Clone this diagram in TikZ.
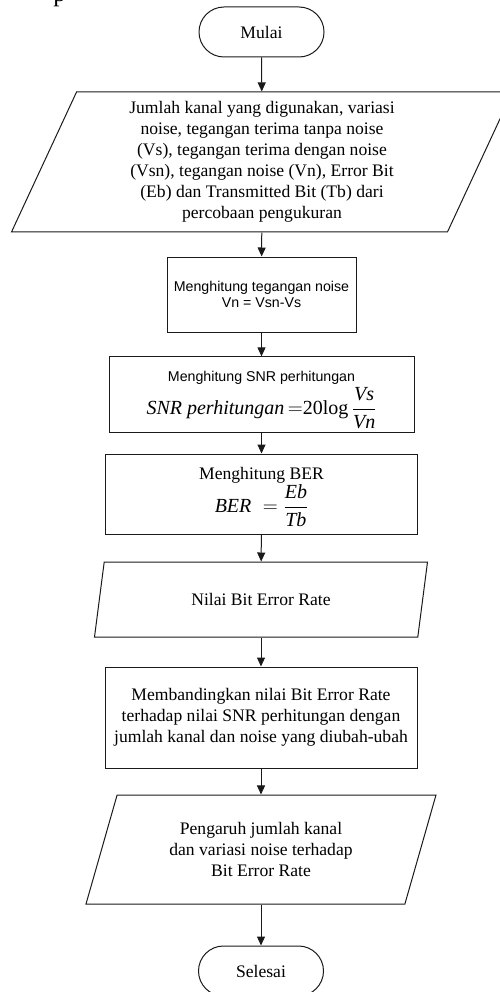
\documentclass[tikz,border=0pt]{standalone}
\usepackage{fontspec}
\setmainfont{Liberation Serif}
\setsansfont{Liberation Sans}
\usepackage{amsmath}
\usetikzlibrary{shapes.geometric, arrows.meta}
\definecolor{flowline}{HTML}{1A1A1A}

\begin{document}
\begin{tikzpicture}[
    x=1pt, y=-1pt,
    font=\fontsize{17.6}{21}\selectfont,
    term/.style={draw=flowline, line width=1pt, rounded corners=25pt, minimum width=125pt, minimum height=50pt, align=center},
    box/.style={draw=flowline, line width=1pt, align=center},
    io/.style={draw=flowline, line width=1pt, trapezium, trapezium left angle=63, trapezium right angle=117, trapezium stretches body=true, align=center},
    sans/.style={font=\sffamily\fontsize{14.2}{15.5}\selectfont},
    arr/.style={-{Triangle[length=9pt, width=8pt]}, line width=1pt, color=flowline},
]
\useasboundingbox (0,0) rectangle (499,992);
\node[font=\fontsize{25}{30}\selectfont, anchor=base] (frag) at (59.5,1.5) {p};
\node[term] (mulai) at (261.5,32) {Mulai};
\node[io, minimum width=501pt, minimum height=140pt] (input) at (262,162) {Jumlah kanal yang digunakan, variasi\\noise, tegangan terima tanpa noise\\(Vs), tegangan terima dengan noise\\(Vsn), tegangan noise (Vn), Error Bit\\(Eb) dan Transmitted Bit (Tb) dari\\percobaan pengukuran};
\node[box, sans, minimum width=189pt, minimum height=75pt] (vn) at (261.5,294.5) {Menghitung tegangan noise\\Vn = Vsn-Vs};
\node[box, minimum width=305pt, minimum height=75pt] (snr) at (261.5,394.5) {\sffamily\fontsize{14.2}{15.5}\selectfont\rule{0pt}{21pt}Menghitung SNR perhitungan\\[2pt]
    \rmfamily\fontsize{20}{24}\selectfont $\textit{SNR perhitungan}\,{=}\textrm{20log}\,\dfrac{\textit{Vs}}{\textit{Vn}}$};
\node[box, minimum width=312pt, minimum height=80pt] (ber) at (261.5,494) {\rule{0pt}{18pt}Menghitung BER\\
    \fontsize{20}{24}\selectfont $\textit{BER}\;=\dfrac{\textit{Eb}}{\textit{Tb}}$};
\node[io, minimum width=333pt, minimum height=75pt] (nilai) at (261,599.5) {Nilai Bit Error Rate};
\node[box, minimum width=312pt, minimum height=101pt] (banding) at (261,717.5) {Membandingkan nilai Bit Error Rate\\terhadap nilai SNR perhitungan dengan\\jumlah kanal dan noise yang diubah-ubah};
\node[io, minimum width=350pt, minimum height=109pt] (hasil) at (261,849.5) {Pengaruh jumlah kanal\\dan variasi noise terhadap\\Bit Error Rate};
\node[term] (selesai) at (261,971) {Selesai};
\draw[arr] (mulai) -- (input);
\draw[arr] (input) -- (vn);
\draw[arr] (vn) -- (snr);
\draw[arr] (snr) -- (ber);
\draw[arr] (ber) -- (nilai);
\draw[arr] (nilai) -- (banding);
\draw[arr] (banding) -- (hasil);
\draw[arr] (hasil) -- (selesai);
\end{tikzpicture}
\end{document}
